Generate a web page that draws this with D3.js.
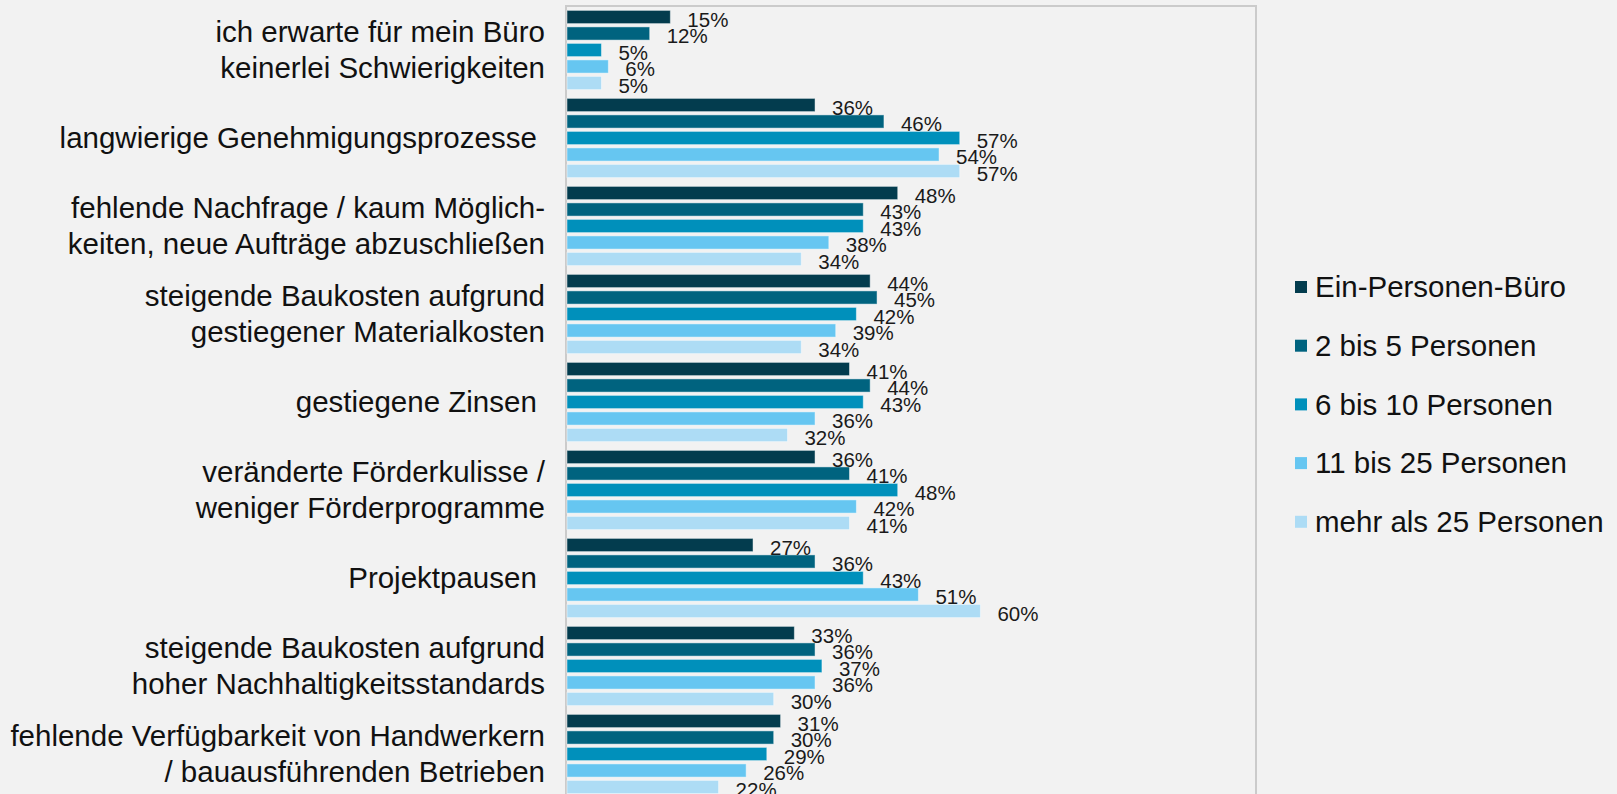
<!DOCTYPE html>
<html>
<head>
<meta charset="utf-8">
<script src="https://cdn.jsdelivr.net/npm/d3@7"></script>
<style>
  html, body { margin: 0; padding: 0; background: #f2f2f2; overflow: hidden; }
  svg { display: block; font-family: "Liberation Sans", Arial, sans-serif; }
</style>
</head>
<body>
<svg class="bar-chart" width="1617" height="794"></svg>
<script>
const categories = [
    ['ich erwarte für mein Büro', 'keinerlei Schwierigkeiten'],
    ['langwierige Genehmigungsprozesse '],
    ['fehlende Nachfrage / kaum Möglich-', 'keiten, neue Aufträge abzuschließen'],
    ['steigende Baukosten aufgrund', 'gestiegener Materialkosten'],
    ['gestiegene Zinsen '],
    ['veränderte Förderkulisse /', 'weniger Förderprogramme'],
    ['Projektpausen '],
    ['steigende Baukosten aufgrund', 'hoher Nachhaltigkeitsstandards'],
    ['fehlende Verfügbarkeit von Handwerkern', '/ bauausführenden Betrieben']
];

const seriesNames = ['Ein-Personen-Büro', '2 bis 5 Personen', '6 bis 10 Personen', '11 bis 25 Personen', 'mehr als 25 Personen'];
const seriesColors = ['#033c4e', '#00637f', '#0090bb', '#66c6f1', '#addcf5'];

const einPersonen = [15, 36, 48, 44, 41, 36, 27, 33, 31];
const zweiBisFuenf = [12, 46, 43, 45, 44, 41, 36, 36, 30];
const sechsBisZehn = [5, 57, 43, 42, 43, 48, 43, 37, 29];
const elfBis25 = [6, 54, 38, 39, 36, 42, 51, 36, 26];
const mehrAls25 = [5, 57, 34, 34, 32, 41, 60, 30, 22];

const seriesValues = [einPersonen, zweiBisFuenf, sechsBisZehn, elfBis25, mehrAls25];

const svg = d3.select('.bar-chart');

const plot = { left: 566, top: 6, right: 1256, bottom: 798 };

const x = d3.scaleLinear()
    .domain([0, 100])
    .range([plot.left + 1, plot.right]);

const catIdx = categories.map((d, i) => i);

const y = d3.scaleBand()
    .domain(catIdx)
    .range([plot.top, plot.bottom])
    .paddingInner(0.1)
    .paddingOuter(0.05);

const ySub = d3.scaleBand()
    .domain(seriesNames)
    .range([0, y.bandwidth()])
    .paddingInner(0.2);

// plot frame
svg.append('rect')
    .attr('x', plot.left)
    .attr('y', plot.top)
    .attr('width', plot.right - plot.left)
    .attr('height', plot.bottom - plot.top + 20)
    .attr('fill', 'none')
    .attr('stroke', '#cbcbcb')
    .attr('stroke-width', 2);

const rows = [];
catIdx.forEach(c => {
    seriesNames.forEach((s, j) => {
        rows.push({ cat: c, series: s, color: seriesColors[j], value: seriesValues[j][c] });
    });
});

const gBars = svg.append('g');

gBars.selectAll('rect')
    .data(rows)
    .enter()
    .append('rect')
    .attr('x', x(0))
    .attr('y', d => y(d.cat) + ySub(d.series))
    .attr('width', d => x(d.value) - x(0))
    .attr('height', ySub.bandwidth())
    .attr('fill', d => d.color)
    .attr('stroke', 'rgba(255,255,255,0.45)')
    .attr('stroke-width', 1);

gBars.selectAll('text')
    .data(rows)
    .enter()
    .append('text')
    .attr('x', d => x(d.value) + 17)
    .attr('y', d => y(d.cat) + ySub(d.series) + ySub.bandwidth() / 2)
    .attr('dy', '0.48em')
    .attr('font-size', 20.5)
    .attr('fill', '#1a1a1a')
    .text(d => d.value + '%');

// category labels
const yAxis = d3.axisLeft(y).tickSize(0).tickFormat('');
const yAxisG = svg.append('g')
    .attr('transform', `translate(${plot.left - 21}, 0)`)
    .call(yAxis);
yAxisG.select('.domain').remove();

const lineH = 36;
yAxisG.selectAll('.tick')
    .append('text')
    .attr('text-anchor', 'end')
    .attr('font-size', 29.5)
    .attr('fill', '#111')
    .style('white-space', 'pre')
    .each(function (c) {
        const lines = categories[c];
        const t = d3.select(this);
        lines.forEach((line, k) => {
            t.append('tspan')
                .attr('x', 0)
                .attr('y', (k - (lines.length - 1) / 2) * lineH)
                .attr('dy', '0.35em')
                .text(line);
        });
    });

// legend
const legend = svg.append('g')
    .attr('transform', 'translate(1295, 287)');

const legendItem = legend.selectAll('g')
    .data(seriesNames)
    .enter()
    .append('g')
    .attr('transform', (d, i) => `translate(0, ${i * 58.7})`);

legendItem.append('rect')
    .attr('x', 0)
    .attr('y', -6)
    .attr('width', 12)
    .attr('height', 12)
    .attr('fill', (d, i) => seriesColors[i]);

legendItem.append('text')
    .attr('x', 20)
    .attr('dy', '0.35em')
    .attr('font-size', 29.5)
    .attr('fill', '#111')
    .text(d => d);
</script>
</body>
</html>
